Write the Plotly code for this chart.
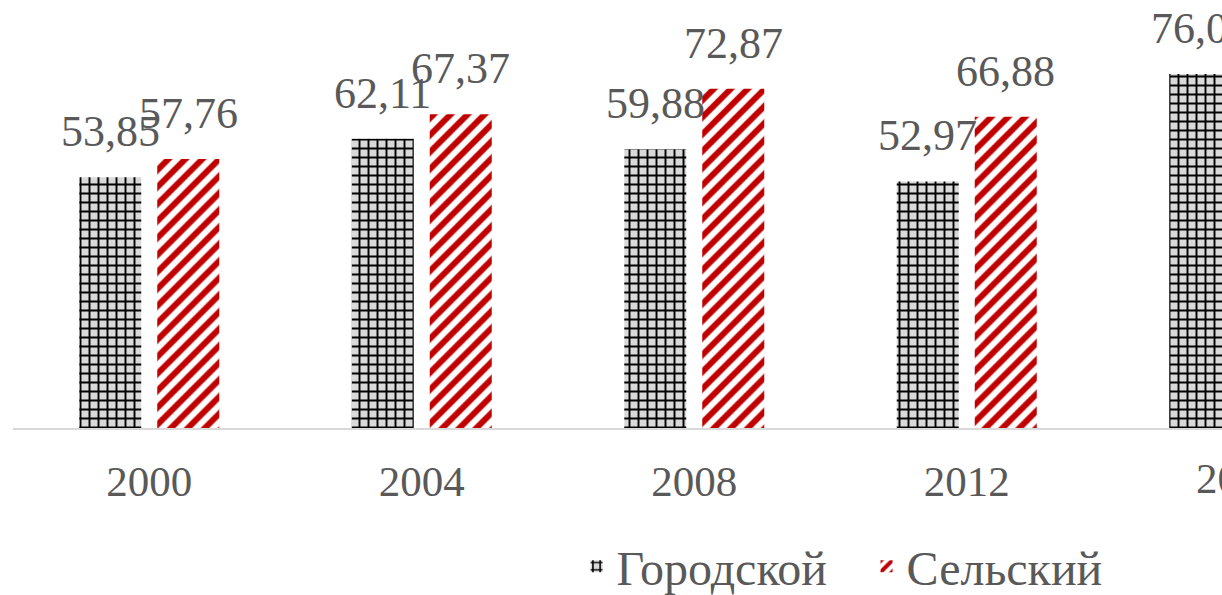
import plotly.graph_objects as go

years = ["2000", "2004", "2008", "2012", "2016"]
urban = [53.85, 62.11, 59.88, 52.97, 76.03]
rural = [57.76, 67.37, 72.87, 66.88, None]
urban_name = "Городской"
rural_name = "Сельский"

def fmt(v):
    return f"{v:.2f}".replace(".", ",")

FONT = "Liberation Serif, Times New Roman, serif"
GREY = "#595959"

W, H = 1222, 595
ml, mt, mb = 13, 9, 167
cat_px = 272.5          # width of one category in pixels
plot_w = W - ml
x_max = plot_w / cat_px - 0.5
off = 39 / cat_px       # bar centre offset from category centre

fig = go.Figure()
fig.add_trace(go.Bar(
    x=years, y=urban, name=urban_name,
    marker=dict(color="#d9d9d9", line=dict(width=0),
                pattern=dict(shape="+", fgcolor="black", bgcolor="#d9d9d9",
                             fgopacity=1, size=9, solidity=0.38)),
))
fig.add_trace(go.Bar(
    x=years, y=rural, name=rural_name,
    marker=dict(color="white", line=dict(width=0),
                pattern=dict(shape="/", fgcolor="#c00000", bgcolor="white",
                             fgopacity=1, size=12, solidity=0.5)),
))

# value labels above the bars
for i, (u, r) in enumerate(zip(urban, rural)):
    for val, dx in ((u, -off), (r, off)):
        if val is None:
            continue
        fig.add_annotation(x=i + dx, y=val, xref="x", yref="y", text=fmt(val),
                           showarrow=False, xanchor="center", yanchor="bottom", yshift=19,
                           font=dict(family=FONT, size=44, color=GREY))

# last category label sits past the visible area
fig.add_annotation(x=(4 + 0.5) / (x_max + 0.5), y=0, xref="paper", yref="paper",
                   text=years[4], showarrow=False, xanchor="center", yanchor="top",
                   yshift=-25, font=dict(family=FONT, size=43, color=GREY))

fig.update_layout(
    width=W, height=H,
    margin=dict(l=ml, r=0, t=mt, b=mb),
    paper_bgcolor="white", plot_bgcolor="white",
    barmode="group", bargap=1 - 156 / cat_px, bargroupgap=1 - 62 / 78,
    font=dict(family=FONT, size=44, color=GREY),
    showlegend=True,
    legend=dict(orientation="h", x=0.706, xanchor="center",
                yref="container", y=0.048, yanchor="middle",
                entrywidth=245, entrywidthmode="pixels",
                font=dict(family=FONT, size=48, color=GREY)),
    xaxis=dict(type="category", range=[-0.5, x_max], showgrid=False,
               showline=True, linecolor="#d9d9d9", linewidth=1.5, ticks="",
               tickfont=dict(family=FONT, size=43, color=GREY), ticklabelstandoff=15),
    yaxis=dict(range=[0, 90], visible=False, showgrid=False, zeroline=False),
)

fig.write_html("out.html", config={"displayModeBar": False},
               post_script="document.body.style.margin='0';")
